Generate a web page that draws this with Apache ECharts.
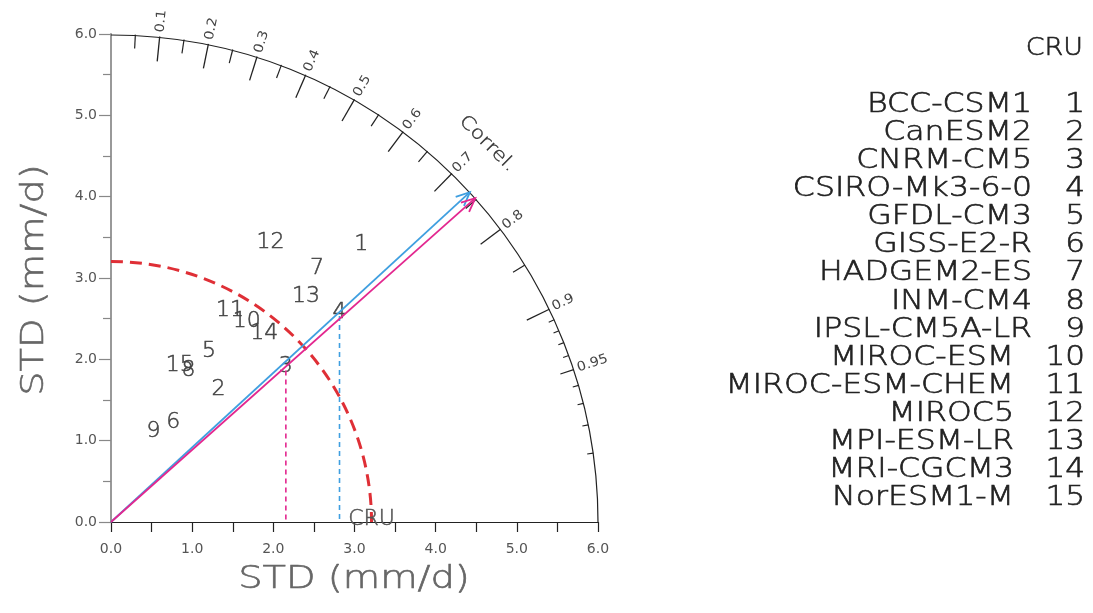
<!DOCTYPE html>
<html>
<head>
<meta charset="utf-8">
<title>Taylor diagram</title>
<script src="https://cdn.jsdelivr.net/npm/echarts@6/dist/echarts.min.js"></script>
<style>
  html, body { margin: 0; padding: 0; background: #ffffff; }
  #chart { width: 1093px; height: 613px; }
</style>
</head>
<body>
<div id="chart"></div>
<script>
// ---- data ---------------------------------------------------------------
const modelNames = [
  'BCC-CSM1', 'CanESM2', 'CNRM-CM5', 'CSIRO-Mk3-6-0', 'GFDL-CM3',
  'GISS-E2-R', 'HADGEM2-ES', 'INM-CM4', 'IPSL-CM5A-LR', 'MIROC-ESM',
  'MIROC-ESM-CHEM', 'MIROC5', 'MPI-ESM-LR', 'MRI-CGCM3', 'NorESM1-M'
];
// standard deviation (mm/d) and correlation with the reference, per model
const modelStd  = [4.60, 2.10, 2.88, 3.82, 2.42, 1.45, 4.02, 2.10, 1.23, 2.98, 2.99, 3.96, 3.67, 2.99, 2.10];
const modelCorr = [0.670, 0.630, 0.748, 0.737, 0.499, 0.528, 0.631, 0.454, 0.425, 0.561, 0.490, 0.496, 0.655, 0.631, 0.404];

const refName = 'CRU';
const refStd = 3.21;
const stdMax = 6;

// correlation scale along the outer arc
const corrLabels = [0.1, 0.2, 0.3, 0.4, 0.5, 0.6, 0.7, 0.8, 0.9, 0.95];
const corrMajor  = [0.1, 0.2, 0.3, 0.4, 0.5, 0.6, 0.7, 0.8, 0.9];
const corrMinor  = [0.05, 0.15, 0.25, 0.35, 0.45, 0.55, 0.65, 0.75, 0.85, 0.95];
const corrFine   = [0.91, 0.92, 0.93, 0.94, 0.96, 0.97, 0.98, 0.99];
const corrTitle  = 'Correl.';

// models whose correlation direction is traced to the outer arc (1-based ids)
const tracedModels = [4, 3];

const axisTitle = 'STD (mm/d)';

// ---- styles -------------------------------------------------------------
const FONT = '"DejaVu Sans", "Liberation Sans", sans-serif';
const WIDE = 1.2;            // horizontal stretch for the wide plotter lettering
const traceColors = ['#3f9fe0', '#e3278f'];

// ---- helpers ------------------------------------------------------------
function polarPx(api, std, corr) {
  const c = Math.max(-1, Math.min(1, corr));
  return api.coord([std * c, std * Math.sqrt(1 - c * c)]);
}
function unitFromOrigin(api, p) {
  const o = api.coord([0, 0]);
  const dx = p[0] - o[0], dy = p[1] - o[1];
  const d = Math.hypot(dx, dy) || 1;
  return [dx / d, dy / d];
}

function corrTickSeries(values, len, width) {
  return {
    type: 'custom', coordinateSystem: 'cartesian2d', silent: true, z: 4,
    data: values.map(v => [v, 0]),
    renderItem: (params, api) => {
      const p = polarPx(api, stdMax, api.value(0));
      const u = unitFromOrigin(api, p);
      return {
        type: 'line',
        shape: { x1: p[0], y1: p[1], x2: p[0] - u[0] * len, y2: p[1] - u[1] * len },
        style: { stroke: '#222', lineWidth: width }
      };
    }
  };
}

const series = [
  // outer arc (maximum standard deviation)
  {
    type: 'custom', coordinateSystem: 'cartesian2d', silent: true, z: 4,
    data: [[stdMax, 0]],
    renderItem: (params, api) => {
      const o = api.coord([0, 0]);
      const r = api.coord([api.value(0), 0])[0] - o[0];
      return {
        type: 'arc',
        shape: { cx: o[0], cy: o[1], r: r, startAngle: -Math.PI / 2, endAngle: 0, clockwise: true },
        style: { stroke: '#222', lineWidth: 1.2, fill: 'none' }
      };
    }
  },
  corrTickSeries(corrMajor, 25, 1.3),
  corrTickSeries(corrMinor, 14, 1.2),
  corrTickSeries(corrFine, 6, 1.1),
  // correlation labels, written radially outward
  {
    type: 'custom', coordinateSystem: 'cartesian2d', silent: true, z: 4,
    data: corrLabels.map(v => [v, 0]),
    renderItem: (params, api) => {
      const c = api.value(0);
      const p = polarPx(api, stdMax, c);
      const u = unitFromOrigin(api, p);
      return {
        type: 'text',
        x: p[0] + u[0] * 4, y: p[1] + u[1] * 4,
        rotation: Math.atan2(-u[1], u[0]),
        scaleX: 1.1,
        style: { text: String(c), fill: '#444', font: '13px ' + FONT, align: 'left', verticalAlign: 'middle' }
      };
    }
  },
  // "Correl." title following the arc
  {
    type: 'custom', coordinateSystem: 'cartesian2d', silent: true, z: 4,
    data: [[0.706, 0]],
    renderItem: (params, api) => {
      const p = polarPx(api, stdMax, api.value(0));
      const u = unitFromOrigin(api, p);
      return {
        type: 'text',
        x: p[0] + u[0] * 46, y: p[1] + u[1] * 46,
        rotation: Math.atan2(-u[1], u[0]) - Math.PI / 2,
        scaleX: WIDE,
        style: { text: corrTitle, fill: '#333', font: '300 18px ' + FONT, align: 'center', verticalAlign: 'middle',
                 stroke: '#333', lineWidth: 0.4 }
      };
    }
  },
  // reference standard deviation circle
  {
    type: 'custom', coordinateSystem: 'cartesian2d', silent: true, z: 5,
    data: [[refStd, 0]],
    renderItem: (params, api) => {
      const o = api.coord([0, 0]);
      const r = api.coord([api.value(0), 0])[0] - o[0];
      return {
        type: 'arc',
        shape: { cx: o[0], cy: o[1], r: r, startAngle: -Math.PI / 2, endAngle: 0, clockwise: true },
        style: { stroke: '#df2f36', lineWidth: 3, fill: 'none', lineDash: [12, 7] }
      };
    }
  },
  // reference label on the x axis
  {
    type: 'custom', coordinateSystem: 'cartesian2d', silent: true, z: 6,
    data: [[refStd, 0]],
    renderItem: (params, api) => {
      const p = api.coord([api.value(0), 0]);
      return {
        type: 'text', x: p[0], y: p[1] - 3,
        style: { text: refName, fill: '#555', font: '300 22px ' + FONT, align: 'center', verticalAlign: 'middle',
                 stroke: '#555', lineWidth: 0.5 }
      };
    }
  },
  // model markers: their id numbers
  {
    type: 'custom', coordinateSystem: 'cartesian2d', silent: true, z: 6,
    data: modelStd.map((s, i) => [s, modelCorr[i], i + 1]),
    renderItem: (params, api) => {
      const p = polarPx(api, api.value(0), api.value(1));
      return {
        type: 'text', x: p[0], y: p[1],
        style: { text: String(api.value(2)), fill: '#444', font: '300 22px ' + FONT, align: 'center', verticalAlign: 'middle',
                 stroke: '#444', lineWidth: 0.5 }
      };
    }
  },
  // traced models: dashed drop to the x axis and ray to the outer arc
  {
    type: 'custom', coordinateSystem: 'cartesian2d', silent: true, z: 7,
    data: tracedModels.map((id, k) => [modelStd[id - 1], modelCorr[id - 1], k]),
    renderItem: (params, api) => {
      const s = api.value(0), c = api.value(1), k = api.value(2);
      const color = traceColors[k % traceColors.length];
      const o = api.coord([0, 0]);
      const p = polarPx(api, s, c);
      const foot = api.coord([s * c, 0]);
      const tip = polarPx(api, stdMax, c);
      const u = unitFromOrigin(api, tip);
      const head = 15, spread = 0.42;
      const ang = Math.atan2(u[1], u[0]);
      const b1 = [tip[0] - head * Math.cos(ang - spread), tip[1] - head * Math.sin(ang - spread)];
      const b2 = [tip[0] - head * Math.cos(ang + spread), tip[1] - head * Math.sin(ang + spread)];
      return {
        type: 'group',
        children: [
          { type: 'line', shape: { x1: p[0], y1: p[1] + 4, x2: foot[0], y2: foot[1] },
            style: { stroke: color, lineWidth: 1.6, lineDash: [5, 4] } },
          { type: 'line', shape: { x1: o[0], y1: o[1], x2: tip[0], y2: tip[1] },
            style: { stroke: color, lineWidth: 1.8 } },
          { type: 'polyline', shape: { points: [b1, tip, b2] },
            style: { stroke: color, lineWidth: 1.8, fill: 'none' } }
        ]
      };
    }
  }
];

// ---- legend and axis titles (drawn as graphics) -------------------------
const graphics = [];
graphics.push({
  type: 'text', x: 1083, y: 48, scaleX: 1.08,
  style: { text: refName, fill: '#222', font: '300 25px ' + FONT, align: 'right', verticalAlign: 'middle',
           stroke: '#222', lineWidth: 0.6 }
});
modelNames.forEach((name, i) => {
  const id = String(i + 1);
  const y = 105 + 28.07 * i;
  graphics.push({
    type: 'text', x: 1085, y: y, scaleX: 1.15,
    style: { text: id, fill: '#222', font: '300 27px ' + FONT, align: 'right', verticalAlign: 'middle',
             stroke: '#222', lineWidth: 0.6 }
  });
  graphics.push({
    type: 'text', x: 1085 - 18 * id.length - 35, y: y, scaleX: 1.17,
    style: { text: name, fill: '#222', font: '300 27px ' + FONT, align: 'right', verticalAlign: 'middle',
             stroke: '#222', lineWidth: 0.6 }
  });
});
graphics.push({
  type: 'text', x: 354, y: 580, scaleX: WIDE,
  style: { text: axisTitle, fill: '#666', font: '300 32px ' + FONT, align: 'center', verticalAlign: 'middle',
           stroke: '#666', lineWidth: 0.6 }
});
graphics.push({
  type: 'text', x: 35, y: 280, rotation: Math.PI / 2, scaleX: WIDE,
  style: { text: axisTitle, fill: '#666', font: '300 32px ' + FONT, align: 'center', verticalAlign: 'middle',
           stroke: '#666', lineWidth: 0.6 }
});

const chart = echarts.init(document.getElementById('chart'), null, { renderer: 'canvas' });
chart.setOption({
  animation: false,
  backgroundColor: '#ffffff',
  grid: { left: 111, top: 34, width: 487, height: 488, containLabel: false, outerBoundsMode: 'none' },
  xAxis: {
    type: 'value', min: 0, max: stdMax, interval: 1,
    axisLine: { show: true, onZero: false, lineStyle: { color: '#222', width: 1.2 } },
    axisTick: { show: true, length: 10, lineStyle: { color: '#222', width: 1.2 } },
    minorTick: { show: true, splitNumber: 2, length: 10, lineStyle: { color: '#222', width: 1.2 } },
    splitLine: { show: false },
    minorSplitLine: { show: false },
    axisLabel: { formatter: v => v.toFixed(1), fontSize: 14, fontFamily: FONT, color: '#555', margin: 20 }
  },
  yAxis: {
    type: 'value', min: 0, max: stdMax, interval: 1,
    axisLine: { show: true, onZero: false, lineStyle: { color: '#999', width: 2 } },
    axisTick: { show: true, length: 12, lineStyle: { color: '#888', width: 1.2 } },
    minorTick: { show: true, splitNumber: 2, length: 8, lineStyle: { color: '#888', width: 1.2 } },
    splitLine: { show: false },
    minorSplitLine: { show: false },
    axisLabel: { formatter: v => v.toFixed(1), fontSize: 14, fontFamily: FONT, color: '#555', margin: 14 }
  },
  series: series,
  graphic: graphics
});
</script>
</body>
</html>
